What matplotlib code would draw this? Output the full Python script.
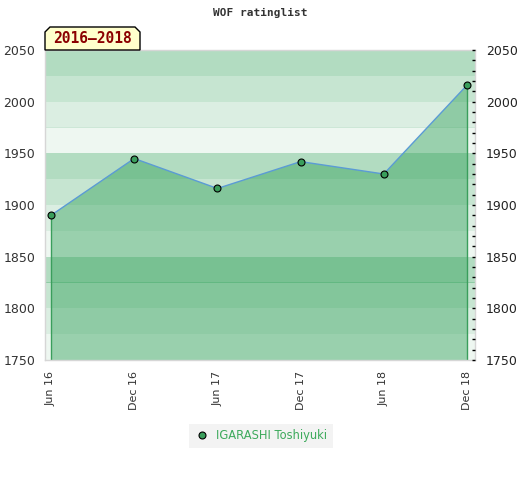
import numpy as np
import matplotlib.pyplot as plt
from matplotlib.patches import Polygon
from matplotlib.ticker import MultipleLocator

# ratings
periods = ["Jun 16", "Dec 16", "Jun 17", "Dec 17", "Jun 18", "Dec 18"]
ratings = [1890, 1945, 1916, 1942, 1930, 2016]
player = "IGARASHI Toshiyuki"
span_label = "2016\u20132018"
title = "WOF ratinglist"

y_min, y_max = 1750, 2050
band_step = 25
band_alphas = [0.37, 0.27, 0.17, 0.08]

green = "#2ea057"

fig = plt.figure(figsize=(5.2, 4.8), dpi=100)
ax = fig.add_axes([45 / 520, 1 - 360 / 480, 430 / 520, 310 / 480])

x = np.arange(len(periods))

# horizontal background bands, darkest at the top of every 100 points
edges = np.arange(y_max, y_min, -band_step)
for i, top in enumerate(edges):
    ax.axhspan(top - band_step, top, color=green, alpha=band_alphas[i % 4], lw=0, zorder=0)

ax.fill_between(x, ratings, y_min, facecolor=green, alpha=0.44, lw=0, zorder=1)
ax.vlines([x[0], x[-1]], y_min, [ratings[0], ratings[-1]], color="#3a9e5c", lw=1, zorder=2)
ax.plot(x, ratings, color="#5b9bd5", lw=1, zorder=3)
ax.plot(x, ratings, ls="none", marker="o", ms=5, mfc="#3a9e5c", mec="black", mew=0.8,
        zorder=4, label=player)

ax.set_xlim(-6 / 83.2, 5 + 8 / 83.2)
ax.set_ylim(y_min, y_max)
ax.set_xticks(x)
ax.set_xticklabels(periods, rotation=90, fontsize=8, color="#333333")
ax.yaxis.set_major_locator(MultipleLocator(50))
ax.tick_params(axis="y", length=0, pad=7, labelsize=9, labelcolor="#333333")
ax.tick_params(axis="x", length=0, pad=8)
for s in ax.spines.values():
    s.set_color("#d6d6d6")
    s.set_linewidth(1)

ax2 = ax.twinx()
ax2.set_ylim(y_min, y_max)
ax2.yaxis.set_major_locator(MultipleLocator(50))
ax2.yaxis.set_minor_locator(MultipleLocator(10))
ax2.tick_params(axis="y", which="both", direction="in", length=2.5, width=1,
                color="black", pad=8, labelsize=9, labelcolor="#222222")
for s in ax2.spines.values():
    s.set_visible(False)

fig.text(0.5, 1 - 13 / 480, title, ha="center", va="center", family="DejaVu Sans Mono",
         fontsize=8, fontweight="bold", color="#333333")

# period tag with clipped top corners
w, h, c = 95 / 430, 23 / 310, 5 / 430
cy = c * 430 / 310
tag = Polygon([(0, 1), (0, 1 + h - cy), (c, 1 + h), (w - c, 1 + h), (w, 1 + h - cy), (w, 1)],
              closed=True, transform=ax.transAxes, clip_on=False,
              facecolor="#ffffcc", edgecolor="black", lw=1, zorder=5)
ax.add_patch(tag)
ax.text(w / 2, 1 + h / 2, span_label, transform=ax.transAxes, ha="center", va="center",
        family="DejaVu Sans Mono", fontsize=10.5, fontweight="bold", color="#8b0000", zorder=6)

leg = fig.legend(loc="center", bbox_to_anchor=(261 / 520, 1 - 436 / 480), frameon=True,
                 fontsize=8.3, handletextpad=0.6, borderpad=0.5, handlelength=1.2,
                 fancybox=False)
leg.get_frame().set_facecolor("#f0f0f0")
leg.get_frame().set_edgecolor("none")
for t in leg.get_texts():
    t.set_color("#3daa5c")

fig.savefig("out.png", dpi=100)
